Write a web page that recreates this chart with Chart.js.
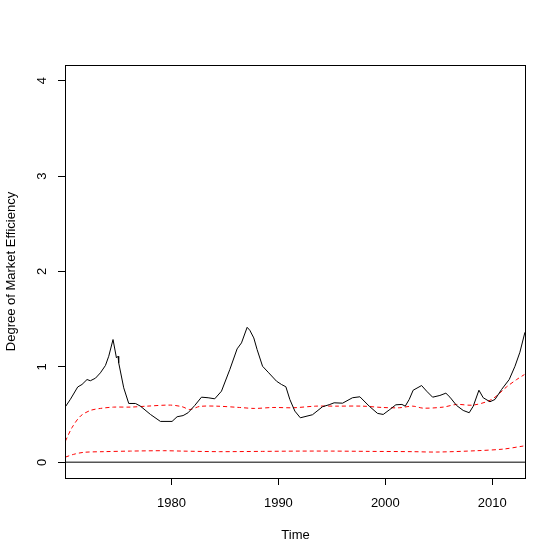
<!DOCTYPE html>
<html>
<head>
<meta charset="utf-8">
<script src="https://cdn.jsdelivr.net/npm/chart.js@4/dist/chart.umd.min.js"></script>
<style>
  body { margin: 0; background: #fff; }
  #wrap { width: 560px; height: 560px; }
</style>
</head>
<body>
<div id="wrap"><canvas id="myChart" width="560" height="560"></canvas></div>
<script>
// degree of market efficiency (black line)
var dmeYears = [1970.09, 1970.55, 1971.24, 1971.64, 1972.11, 1972.42, 1972.9, 1973.36, 1973.83, 1974.14,
  1974.54, 1974.86, 1975.01, 1975.07, 1975.54, 1976.01, 1976.64, 1977.1, 1978.04, 1978.97,
  1980.06, 1980.53, 1981.09, 1981.56, 1982.18, 1982.81, 1983.43, 1984.05, 1984.68, 1985.46,
  1986.14, 1986.55, 1987.08, 1987.33, 1987.7, 1988.01, 1988.52, 1989.04, 1989.83, 1990.29,
  1990.7, 1991.07, 1991.54, 1992.05, 1993.19, 1994.13, 1994.75, 1995.21, 1996.0, 1996.93,
  1997.62, 1998.49, 1999.27, 1999.8, 2000.42, 2000.98, 2001.55, 2001.86, 2002.23, 2002.6,
  2003.39, 2003.86, 2004.42, 2005.1, 2005.66, 2006.04, 2006.66, 2007.28, 2007.84, 2008.22,
  2008.75, 2009.15, 2009.78, 2010.25, 2010.87, 2011.58, 2012.12, 2012.58, 2013.05];
var dmeValues = [0.583, 0.66, 0.79, 0.816, 0.868, 0.855, 0.882, 0.938, 1.015, 1.112,
  1.287, 1.095, 1.112, 1.043, 0.781, 0.617, 0.617, 0.589, 0.502, 0.429,
  0.429, 0.478, 0.49, 0.52, 0.596, 0.683, 0.677, 0.666, 0.746, 0.973,
  1.189, 1.252, 1.415, 1.384, 1.304, 1.182, 1.007, 0.945, 0.85, 0.816,
  0.792, 0.659, 0.537, 0.467, 0.499, 0.583, 0.604, 0.624, 0.62, 0.677,
  0.687, 0.589, 0.513, 0.502, 0.554, 0.603, 0.607, 0.589, 0.659, 0.756,
  0.805, 0.746, 0.683, 0.701, 0.725, 0.683, 0.596, 0.544, 0.52, 0.589,
  0.756, 0.677, 0.635, 0.659, 0.764, 0.868, 1.007, 1.154, 1.363];

// upper red dashed band
var upperYears = [1970.09, 1970.7, 1971.49, 1972.42, 1973.36, 1974.6, 1976.17, 1977.72, 1979.91, 1981.0,
  1981.72, 1982.65, 1984.21, 1986.39, 1987.79, 1989.5, 1991.38, 1993.5, 1995.37, 1997.87,
  1999.74, 2001.3, 2002.55, 2003.54, 2005.41, 2006.66, 2008.22, 2009.94, 2011.35, 2012.28, 2013.0];
var upperValues = [0.223, 0.363, 0.484, 0.544, 0.565, 0.579, 0.579, 0.589, 0.6, 0.583,
  0.554, 0.586, 0.589, 0.575, 0.565, 0.575, 0.572, 0.589, 0.589, 0.589,
  0.575, 0.572, 0.589, 0.568, 0.579, 0.607, 0.6, 0.659, 0.792, 0.868, 0.92];

// lower red dashed band
var lowerYears = [1970.09, 1970.86, 1971.8, 1973.67, 1976.17, 1979.28, 1981.0, 1984.5, 1988.5, 1992.0,
  1995.0, 1998.5, 2002.5, 2004.8, 2008.54, 2011.03, 2012.9];
var lowerValues = [0.055, 0.084, 0.105, 0.112, 0.118, 0.122, 0.118, 0.112, 0.115, 0.118,
  0.118, 0.115, 0.112, 0.108, 0.122, 0.139, 0.171];

var xTicks = [1980, 1990, 2000, 2010];
var yTicks = [0, 1, 2, 3, 4];
var xMin = 1970.05, xMax = 2013.15;
var yMin = -0.164, yMax = 4.164;

function pairs(xs, ys) {
  var out = [];
  for (var i = 0; i < xs.length; i++) {
    out.push({x: xs[i], y: ys[i]});
  }
  return out;
}

var fontFam = '"Liberation Sans", Arial, Helvetica, sans-serif';

// box around the plot + rotated y tick labels like base R
var rPlot = {
  id: 'rPlot',
  afterDraw: function(chart) {
    var ctx = chart.ctx;
    var a = chart.chartArea;
    ctx.save();
    ctx.strokeStyle = '#000';
    ctx.lineWidth = 1;
    ctx.strokeRect(Math.round(a.left) + 0.5, Math.round(a.top) + 0.5,
      Math.round(a.right - a.left) - 1, Math.round(a.bottom - a.top));
    var ys = chart.scales.y;
    ctx.fillStyle = '#000';
    ctx.font = '13px ' + fontFam;
    ctx.textAlign = 'center';
    ctx.textBaseline = 'middle';
    for (var i = 0; i < yTicks.length; i++) {
      var py = ys.getPixelForValue(yTicks[i]);
      ctx.save();
      ctx.translate(42, py);
      ctx.rotate(-Math.PI / 2);
      ctx.fillText(String(yTicks[i]), 0, 0);
      ctx.restore();
    }
    ctx.restore();
  }
};

var ctx = document.getElementById('myChart');
var chart = new Chart(ctx, {
  type: 'line',
  data: {
    datasets: [{
      label: 'DME',
      data: pairs(dmeYears, dmeValues),
      borderColor: '#000',
      borderWidth: 1,
      pointRadius: 0,
      tension: 0
    }, {
      label: 'upper',
      data: pairs(upperYears, upperValues),
      borderColor: '#ff0000',
      borderWidth: 1,
      borderDash: [4, 3],
      pointRadius: 0,
      tension: 0.3
    }, {
      label: 'lower',
      data: pairs(lowerYears, lowerValues),
      borderColor: '#ff0000',
      borderWidth: 1,
      borderDash: [4, 3],
      pointRadius: 0,
      tension: 0.3
    }, {
      label: 'zero',
      data: pairs([xMin, xMax], [0, 0]),
      borderColor: '#555',
      borderWidth: 1.5,
      pointRadius: 0
    }]
  },
  options: {
    responsive: false,
    animation: false,
    layout: { padding: { left: 0, top: 65, right: 34, bottom: 0 } },
    plugins: { legend: { display: false }, tooltip: { enabled: false } },
    scales: {
      x: {
        type: 'linear',
        min: xMin,
        max: xMax,
        afterBuildTicks: function(scale) {
          scale.ticks = xTicks.map(function(v) { return {value: v}; });
        },
        afterFit: function(scale) { scale.height = 82; },
        grid: { drawOnChartArea: false, tickLength: 7, color: '#000', lineWidth: 1 },
        border: { display: false },
        ticks: {
          color: '#000',
          padding: 11,
          maxRotation: 0,
          font: { family: fontFam, size: 13 },
          callback: function(v) { return String(v); }
        },
        title: {
          display: true,
          text: 'Time',
          color: '#000',
          font: { family: fontFam, size: 13 },
          padding: { top: 0, bottom: 17 }
        }
      },
      y: {
        type: 'linear',
        min: yMin,
        max: yMax,
        afterBuildTicks: function(scale) {
          scale.ticks = yTicks.map(function(v) { return {value: v}; });
        },
        afterFit: function(scale) { scale.width = 65; },
        grid: { drawOnChartArea: false, tickLength: 7, color: '#000', lineWidth: 1 },
        border: { display: false },
        ticks: { display: false },
        title: {
          display: true,
          text: 'Degree of Market Efficiency',
          color: '#000',
          font: { family: fontFam, size: 13 },
          padding: { top: 4, bottom: 0 }
        }
      }
    }
  },
  plugins: [rPlot]
});
</script>
</body>
</html>
